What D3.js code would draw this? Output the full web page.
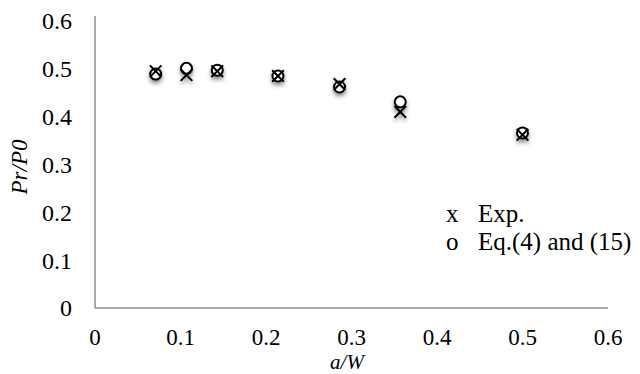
<!DOCTYPE html>
<html>
<head>
<meta charset="utf-8">
<script src="https://cdn.jsdelivr.net/npm/d3@7"></script>
<style>
  body { margin: 0; background: #fff; }
  svg { display: block; }
  text { font-family: "Liberation Serif", "Times New Roman", serif; fill: #000; }
</style>
</head>
<body>
<div id="chart"></div>
<script>
// a/W values and the two series
const aW = [0.071, 0.107, 0.143, 0.214, 0.286, 0.357, 0.5];
const expVals = [0.495, 0.487, 0.495, 0.485, 0.468, 0.41, 0.362];
const eqVals = [0.489, 0.501, 0.497, 0.485, 0.462, 0.431, 0.366];
const xTicks = [0, 0.1, 0.2, 0.3, 0.4, 0.5, 0.6];
const yTicks = [0, 0.1, 0.2, 0.3, 0.4, 0.5, 0.6];

const W = 640, H = 374;
const margin = { top: 21, right: 32, bottom: 66, left: 95 };

const svg = d3.select("#chart").append("svg")
  .attr("width", W)
  .attr("height", H);

const defs = svg.append("defs");
const shadow = defs.append("filter")
  .attr("id", "shadow")
  .attr("x", "-50%").attr("y", "-50%")
  .attr("width", "200%").attr("height", "220%");
shadow.append("feDropShadow")
  .attr("dx", 0).attr("dy", 3)
  .attr("stdDeviation", 2)
  .attr("flood-color", "#000")
  .attr("flood-opacity", 0.45);

const x = d3.scaleLinear().domain([0, 0.6]).range([margin.left, W - margin.right]);
const y = d3.scaleLinear().domain([0, 0.6]).range([H - margin.bottom, margin.top]);

// axis lines
svg.append("line")
  .attr("x1", x(0)).attr("x2", x(0.6))
  .attr("y1", y(0)).attr("y2", y(0))
  .attr("stroke", "#8c8c8c").attr("stroke-width", 1.5);
svg.append("line")
  .attr("x1", x(0)).attr("x2", x(0))
  .attr("y1", y(0)).attr("y2", y(0.6) - 5)
  .attr("stroke", "#8c8c8c").attr("stroke-width", 1.5);

// tick labels
svg.selectAll(".ytick")
  .data(yTicks)
  .enter().append("text")
  .attr("class", "ytick")
  .attr("x", 72)
  .attr("y", d => y(d))
  .attr("dy", "0.35em")
  .attr("text-anchor", "end")
  .style("font-size", "24px")
  .text(d => d === 0 ? "0" : d3.format(".1f")(d));

svg.selectAll(".xtick")
  .data(xTicks)
  .enter().append("text")
  .attr("class", "xtick")
  .attr("x", d => x(d))
  .attr("y", 345)
  .attr("text-anchor", "middle")
  .style("font-size", "23px")
  .text(d => d === 0 ? "0" : d3.format(".1f")(d));

// axis titles
svg.append("text")
  .attr("x", 347)
  .attr("y", 369)
  .attr("text-anchor", "middle")
  .style("font-size", "21px")
  .style("font-style", "italic")
  .text("a/W");

svg.append("text")
  .attr("transform", "translate(27,167) rotate(-90)")
  .attr("text-anchor", "middle")
  .style("font-size", "23px")
  .style("font-style", "italic")
  .text("Pr/P0");

// markers
const marks = svg.append("g").attr("filter", "url(#shadow)");

marks.selectAll(".eq")
  .data(aW.map((a, i) => ({ a, v: eqVals[i] })))
  .enter().append("circle")
  .attr("class", "eq")
  .attr("cx", d => x(d.a))
  .attr("cy", d => y(d.v))
  .attr("r", 5.5)
  .attr("fill", "#fff")
  .attr("stroke", "#000")
  .attr("stroke-width", 2);

const cross = d3.symbol().type(d3.symbolX).size(90);
marks.selectAll(".exp")
  .data(aW.map((a, i) => ({ a, v: expVals[i] })))
  .enter().append("path")
  .attr("class", "exp")
  .attr("transform", d => `translate(${x(d.a)},${y(d.v)})`)
  .attr("d", cross)
  .attr("fill", "none")
  .attr("stroke", "#000")
  .attr("stroke-width", 2);

// legend
const legendItems = [["x", "Exp."], ["o", "Eq.(4) and (15)"]];
const legend = svg.append("g").attr("transform", "translate(446,222)");
legendItems.forEach(([sym, label], i) => {
  legend.append("text")
    .attr("x", 0)
    .attr("y", i * 28)
    .style("font-size", "25px")
    .text(sym);
  legend.append("text")
    .attr("x", 32)
    .attr("y", i * 28)
    .style("font-size", "25px")
    .text(label);
});
</script>
</body>
</html>
